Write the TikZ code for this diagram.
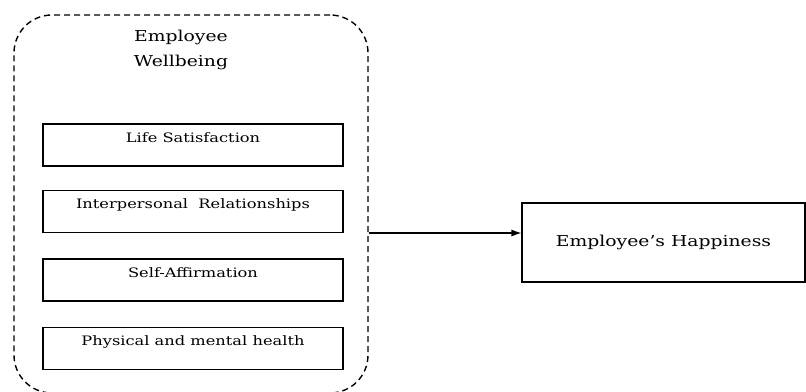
\documentclass[tikz,border=0pt]{standalone}
\usepackage{fontspec}
\setmainfont[FakeStretch=1.25]{DejaVu Serif}
\usepackage{tikz}
\usetikzlibrary{shapes.geometric, arrows.meta}
\usetikzlibrary{calc,positioning}

\tikzset{
    factor/.style={draw, line width=1.1pt, minimum width=300pt, minimum height=42pt,
        inner sep=0pt, text height=18pt, text depth=24pt, font=\fontsize{13}{15}\selectfont},
    outcome/.style={draw, line width=1.1pt, minimum width=283pt, minimum height=79pt,
        inner sep=0pt, font=\fontsize{15}{18}\selectfont}
}

\begin{document}
\begin{tikzpicture}[x=1pt, y=-1pt]

    \useasboundingbox (0,0) rectangle (806,391);
    \clip (0,0) rectangle (806,391);

    % Wellbeing group
    \node[draw, dashed, line width=1.4pt, dash pattern=on 6pt off 4pt, rounded corners=38pt,
        minimum width=354pt, minimum height=378pt] (wb) at (191,204) {};
    \node[align=center, font=\fontsize{15}{25}\selectfont] (title) at (181,50) {Employee\\Wellbeing};

    % Dimensions
    \node[factor] (life) at (193,145) {Life Satisfaction};
    \node[factor] (inter) at (193,211.5) {Interpersonal\ \ Relationships};
    \node[factor] (self) at (193,280) {Self-Affirmation};
    \node[factor] (phys) at (193,348.5) {Physical and mental health};

    % Outcome
    \node[outcome] (happy) at (663.5,242.5) {Employee's Happiness};

    \coordinate (from) at (wb.east |- 0,233);
    \draw[-{Latex[length=10pt,width=7pt]}, line width=1.2pt] (from) -- (from -| happy.west);

\end{tikzpicture}
\end{document}
